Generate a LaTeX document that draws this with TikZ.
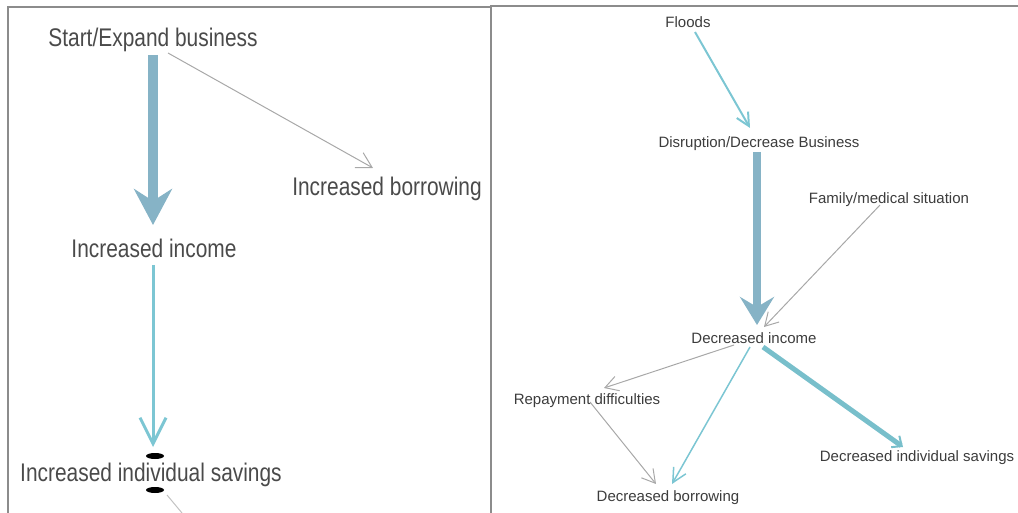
\documentclass[tikz,border=0pt]{standalone}
\usepackage{fontspec}
\setmainfont{Liberation Sans}
\newfontfamily\narrowfont[FakeStretch=0.82]{Liberation Sans}
\usetikzlibrary{arrows.meta}
\definecolor{steel}{HTML}{86B3C6}
\definecolor{aqua}{HTML}{7CC6D3}
\definecolor{teal}{HTML}{78BFCB}
\definecolor{linkgray}{HTML}{A8A8A8}
\definecolor{framegray}{HTML}{8C8C8C}
\definecolor{bigtext}{HTML}{4A4A4A}
\definecolor{smalltext}{HTML}{3C3C3C}
\begin{document}
\begin{tikzpicture}[x=1pt,y=-1pt,
  bigstyle/.style={inner sep=0pt, text depth=0pt, text=bigtext, font=\narrowfont\fontsize{25.5}{28}\selectfont},
  smallstyle/.style={inner sep=0pt, text depth=0pt, text=smalltext, font=\fontsize{15}{17}\selectfont},
  frameline/.style={draw=framegray, line width=2pt},
  heavy/.style={draw=steel, line width=#1},
  thinlink/.style={draw=linkgray, line width=1pt, -{Straight Barb[length=#1, width=#1+2pt]}},
  cyanlink/.style={draw=aqua, line width=2pt, -{Straight Barb[length=#1, width=#1]}}
]
\path[use as bounding box] (0,0) rectangle (1018,513);

% panel frames
\draw[frameline] (8,513) -- (8,7) -- (491,7);
\draw[frameline] (491,513) -- (491,6) -- (1018,6);

% ---- left panel ----
\node[bigstyle] (ssb)  at (153,37)  {Start/Expand business};
\node[bigstyle] (ibor) at (387,186) {Increased borrowing};
\node[bigstyle] (iinc) at (154,248) {Increased income};
\node[bigstyle] (isav) at (151,472) {Increased individual savings};
\coordinate (tailend) at (182,513);

\draw[heavy=10pt, -{Stealth[length=36pt, width=38pt, inset=12pt]}]
  ([shift={(0,18)}]ssb.center) -- ([shift={(-1,-23)}]iinc.center);
\draw[thinlink=15pt]
  ([shift={(15,16)}]ssb.center) -- ([shift={(-14,-18)}]ibor.center);
\draw[cyanlink=26pt, line width=3pt]
  ([shift={(-1,17)}]iinc.center) -- ([shift={(2,-25)}]isav.center);
\draw[draw=linkgray!70, line width=1pt]
  ([shift={(16,23)}]isav.center) -- (tailend);
\fill[black] ([shift={(4,-16)}]isav.center) ellipse [x radius=9, y radius=3];
\fill[black] ([shift={(4,18)}]isav.center) ellipse [x radius=9, y radius=3];

% ---- right panel ----
\node[smallstyle] (flood) at (688,22)  {Floods};
\node[smallstyle] (disr)  at (759,142) {Disruption/Decrease Business};
\node[smallstyle] (fam)   at (889,198) {Family/medical situation};
\node[smallstyle] (dinc)  at (754,338) {Decreased income};
\node[smallstyle] (repay) at (587,399) {Repayment difficulties};
\node[smallstyle] (dsav)  at (917,456) {Decreased individual savings};
\node[smallstyle] (dbor)  at (668,496) {Decreased borrowing};

\draw[cyanlink=13pt]
  ([shift={(7,10)}]flood.center) -- ([shift={(-9,-14)}]disr.center);
\draw[heavy=8pt, -{Stealth[length=28pt, width=34pt, inset=10pt]}]
  ([shift={(-2,10)}]disr.center) -- ([shift={(3,-13)}]dinc.center);
\draw[thinlink=13pt]
  ([shift={(-9,7)}]fam.center) -- ([shift={(10,-11)}]dinc.center);
\draw[thinlink=13pt]
  ([shift={(-20,7)}]dinc.center) -- ([shift={(17,-11)}]repay.center);
\draw[cyanlink=14pt, line width=1.5pt]
  ([shift={(-4,9)}]dinc.center) -- ([shift={(4,-12)}]dbor.center);
\draw[draw=teal, line width=5pt, -{Straight Barb[length=8pt, width=14pt, line width=2pt]}]
  ([shift={(9,9)}]dinc.center) -- ([shift={(-14,-9)}]dsav.center);
\draw[thinlink=13pt]
  ([shift={(3,3)}]repay.center) -- ([shift={(-12,-12)}]dbor.center);
\end{tikzpicture}
\end{document}
